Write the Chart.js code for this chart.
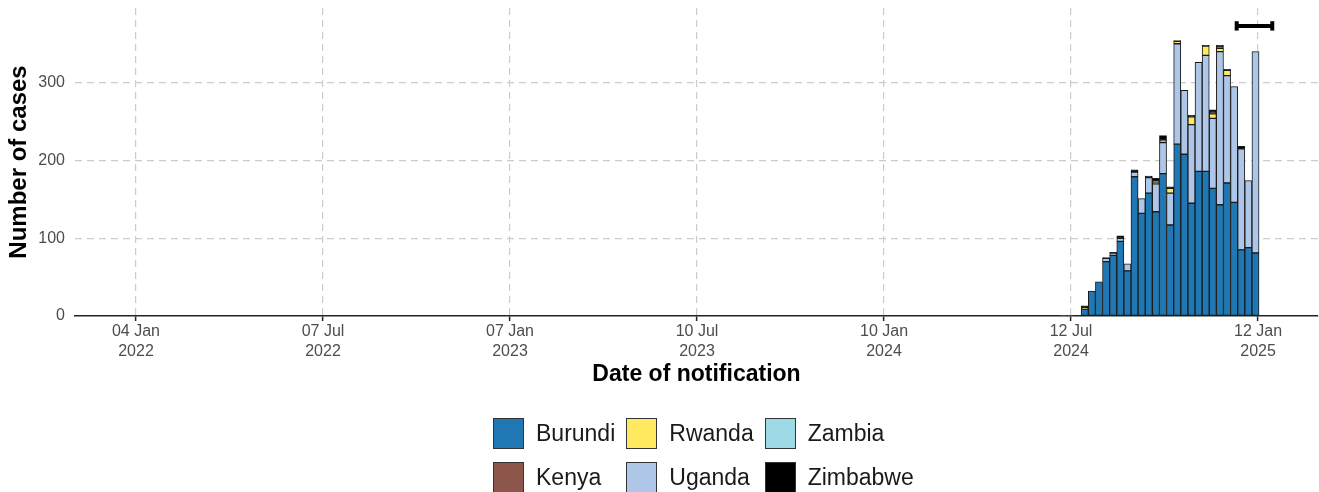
<!DOCTYPE html>
<html>
<head>
<meta charset="utf-8">
<title>Cases by week of notification</title>
<script src="https://cdn.jsdelivr.net/npm/chart.js@4.4.1/dist/chart.umd.min.js"></script>
<style>
  html, body { margin: 0; padding: 0; background: #fff; }
  #wrap { position: relative; width: 1319px; height: 492px; overflow: hidden; }
  #legend {
    position: absolute; left: 493px; top: 418px;
    display: grid; grid-template-rows: 31px 31px; grid-auto-flow: column;
    row-gap: 13px; column-gap: 11px;
    font: 23px "Liberation Sans", Arial, sans-serif; color: #1a1a1a;
  }
  .item { display: flex; align-items: center; }
  .box { box-sizing: border-box; width: 31px; height: 31px; border: 1.5px solid #333; margin-right: 12px; }
</style>
</head>
<body>
<div id="wrap">
  <canvas id="chart" width="1319" height="492"></canvas>
  <div id="legend"></div>
</div>
<script>
// week starting dates (Monday) and weekly counts per country
const weeks = ['2024-07-01','2024-07-08','2024-07-15','2024-07-22','2024-07-29','2024-08-05','2024-08-12',
  '2024-08-19','2024-08-26','2024-09-02','2024-09-09','2024-09-16','2024-09-23','2024-09-30',
  '2024-10-07','2024-10-14','2024-10-21','2024-10-28','2024-11-04','2024-11-11','2024-11-18',
  '2024-11-25','2024-12-02','2024-12-09','2024-12-16','2024-12-23','2024-12-30','2025-01-06'];
const burundi  = [1, 1, 0,  9, 32, 44, 70, 78, 96, 58, 179, 132, 158, 134, 183, 117, 221, 208, 145, 186, 186, 164, 143, 171, 146, 85, 88, 81];
const uganda   = [0, 0, 0,  0,  0,  0,  4,  3,  4,  9,   6,  19,  20,  36,  40,  41, 129,  82, 101, 140, 149,  90, 197, 138, 149, 130, 86, 259];
const zambia   = [0, 0, 0,  0,  0,  0,  0,  0,  0,  0,   0,   0,   0,   0,   0,   0,   0,   0,   0,   0,   0,   0,   0,   0,   0,  0,  0,  0];
const rwanda   = [0, 0, 0,  2,  0,  0,  0,  0,  0,  0,   0,   0,   0,   2,   2,   6,   3,   0,  10,   0,  12,   6,   4,   7,   0,  0,  0,  0];
const kenya    = [0, 0, 0,  0,  0,  0,  0,  0,  0,  0,   0,   0,   0,   2,   2,   0,   0,   0,   0,   0,   0,   2,   3,   0,   0,  0,  0,  0];
const zimbabwe = [0, 0, 0,  2,  0,  0,  1,  1,  3,  0,   3,   0,   2,   3,   5,   2,   1,   0,   2,   0,   1,   3,   1,   1,   0,  3,  0,  0];

const legendOrder = ['Burundi', 'Kenya', 'Rwanda', 'Uganda', 'Zambia', 'Zimbabwe'];
const colours = { Burundi: '#1F77B4', Kenya: '#8C564B', Rwanda: '#FFE95F', Uganda: '#AEC7E8', Zambia: '#9EDAE5', Zimbabwe: '#000000' };

// x axis
const tickDates = ['2022-01-04','2022-07-07','2023-01-07','2023-07-10','2024-01-10','2024-07-12','2025-01-12'];
const axisStart = '2021-11-05';
const axisEnd = '2025-03-12';
const yTicks = [0, 100, 200, 300];
const yMax = 396;

// reporting delay bar (interval with end caps)
const delayStart = '2024-12-22';
const delayEnd = '2025-01-26';
const delayLevel = 373;
const capHalf = 6;

const FONT = '"Liberation Sans", Arial, sans-serif';
const MONTHS = ['Jan','Feb','Mar','Apr','May','Jun','Jul','Aug','Sep','Oct','Nov','Dec'];

function day(s) { return Date.parse(s + 'T00:00:00Z') / 86400000; }
function dateLabel(v) {
  const d = new Date(Math.round(v) * 86400000);
  const dd = String(d.getUTCDate()).padStart(2, '0');
  return [dd + ' ' + MONTHS[d.getUTCMonth()], String(d.getUTCFullYear())];
}

const series = { Burundi: burundi, Uganda: uganda, Zambia: zambia, Rwanda: rwanda, Kenya: kenya, Zimbabwe: zimbabwe };
const stackOrder = ['Burundi', 'Uganda', 'Zambia', 'Rwanda', 'Kenya', 'Zimbabwe'];

const datasets = stackOrder.map(name => ({
  type: 'bar',
  label: name,
  data: weeks.map((w, i) => ({ x: day(w) + 3.5, y: series[name][i] || null })),
  backgroundColor: colours[name],
  borderColor: '#1a1a1a',
  borderWidth: 1,
  borderSkipped: false,
  categoryPercentage: 1,
  barPercentage: 1,
  stack: 'cases'
}));

function segment(id, pts) {
  return { type: 'line', label: id, data: pts, borderColor: '#000', borderWidth: 4,
           pointRadius: 0, pointBorderWidth: 0, stack: id };
}
datasets.push(segment('delay', [{ x: day(delayStart), y: delayLevel }, { x: day(delayEnd), y: delayLevel }]));
datasets.push(segment('capL', [{ x: day(delayStart), y: delayLevel - capHalf }, { x: day(delayStart), y: delayLevel + capHalf }]));
datasets.push(segment('capR', [{ x: day(delayEnd), y: delayLevel - capHalf }, { x: day(delayEnd), y: delayLevel + capHalf }]));

Chart.defaults.font.family = FONT;

new Chart(document.getElementById('chart'), {
  data: { datasets },
  options: {
    responsive: false,
    animation: false,
    events: [],
    layout: { padding: { top: 8, right: 1, left: 0, bottom: 104 } },
    plugins: { legend: { display: false }, tooltip: { enabled: false } },
    scales: {
      x: {
        type: 'linear',
        stacked: true,
        offset: false,
        min: day(axisStart),
        max: day(axisEnd),
        afterBuildTicks: s => { s.ticks = tickDates.map(d => ({ value: day(d) })); },
        afterFit: s => { s.height = 72; s.paddingLeft = 0; s.paddingRight = 0; },
        ticks: {
          autoSkip: false, maxRotation: 0, minRotation: 0,
          color: '#4d4d4d', padding: 1,
          font: { size: 16, lineHeight: 1.25 },
          callback: v => dateLabel(v)
        },
        grid: {
          offset: false, color: '#cccccc', lineWidth: 1.2,
          drawTicks: true, tickLength: 5, tickColor: '#222', tickWidth: 1.5, tickBorderDash: []
        },
        border: { display: true, color: '#222', width: 1.5, dash: [7, 5] },
        title: {
          display: true, text: 'Date of notification', color: '#000',
          font: { size: 23, weight: 'bold', lineHeight: 1.2 },
          padding: { top: 0, bottom: 0 }
        }
      },
      y: {
        stacked: true,
        min: 0,
        max: yMax,
        afterBuildTicks: s => { s.ticks = yTicks.map(v => ({ value: v })); },
        afterFit: s => { s.width = 75; s.paddingTop = 0; s.paddingBottom = 0; },
        ticks: { color: '#4d4d4d', padding: 10, font: { size: 16 } },
        grid: {
          color: c => (c.tick && c.tick.value === 0) ? 'rgba(0,0,0,0)' : '#cccccc',
          lineWidth: 1.2, drawTicks: false
        },
        border: { display: false, dash: [7, 5] },
        title: {
          display: true, text: 'Number of cases', color: '#000',
          font: { size: 24, weight: 'bold', lineHeight: 1.2 },
          padding: { top: 5, bottom: 0 }
        }
      }
    }
  }
});

// legend, filled column by column like the original
const legend = document.getElementById('legend');
legendOrder.forEach(name => {
  const item = document.createElement('div');
  item.className = 'item';
  const box = document.createElement('span');
  box.className = 'box';
  box.style.background = colours[name];
  const txt = document.createElement('span');
  txt.textContent = name;
  item.appendChild(box);
  item.appendChild(txt);
  legend.appendChild(item);
});
</script>
</body>
</html>
